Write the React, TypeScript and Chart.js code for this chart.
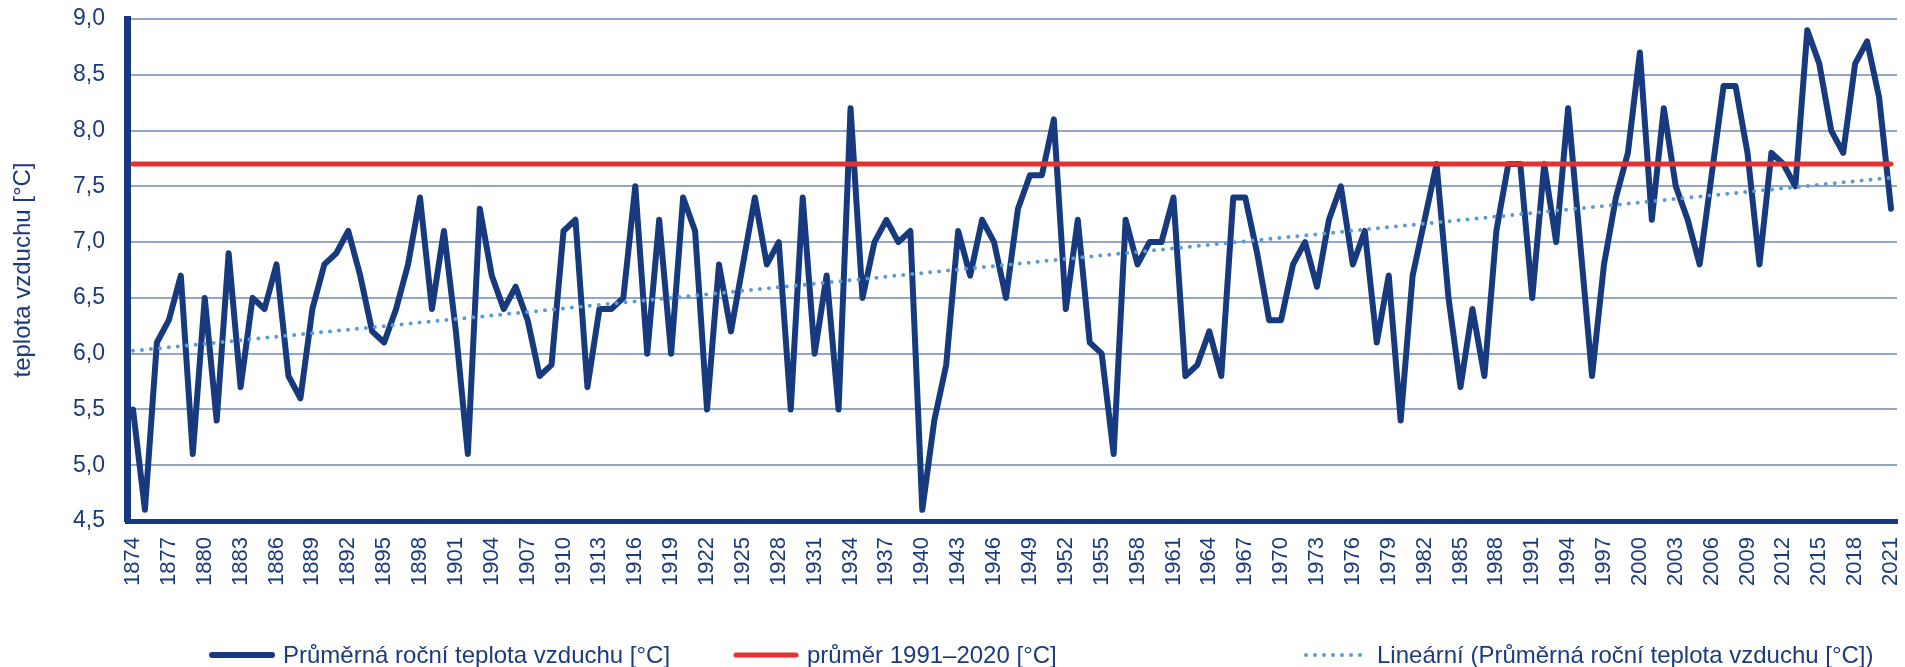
import React, { useEffect, useRef } from "react";
import { Chart, registerables } from "chart.js";

Chart.register(...registerables);

// ---- data ----
const firstYear = 1874;
const lastYear = 2021;
const years: string[] = Array.from({ length: lastYear - firstYear + 1 }, (_, i) => String(firstYear + i));

const temps1874to1879 = [5.5, 4.6, 6.1, 6.3, 6.7, 5.1];
const temps1880s = [6.5, 5.4, 6.9, 5.7, 6.5, 6.4, 6.8, 5.8, 5.6, 6.4];
const temps1890s = [6.8, 6.9, 7.1, 6.7, 6.2, 6.1, 6.4, 6.8, 7.4, 6.4];
const temps1900s = [7.1, 6.2, 5.1, 7.3, 6.7, 6.4, 6.6, 6.3, 5.8, 5.9];
const temps1910s = [7.1, 7.2, 5.7, 6.4, 6.4, 6.5, 7.5, 6.0, 7.2, 6.0];
const temps1920s = [7.4, 7.1, 5.5, 6.8, 6.2, 6.8, 7.4, 6.8, 7.0, 5.5];
const temps1930s = [7.4, 6.0, 6.7, 5.5, 8.2, 6.5, 7.0, 7.2, 7.0, 7.1];
const temps1940s = [4.6, 5.4, 5.9, 7.1, 6.7, 7.2, 7.0, 6.5, 7.3, 7.6];
const temps1950s = [7.6, 8.1, 6.4, 7.2, 6.1, 6.0, 5.1, 7.2, 6.8, 7.0];
const temps1960s = [7.0, 7.4, 5.8, 5.9, 6.2, 5.8, 7.4, 7.4, 6.9, 6.3];
const temps1970s = [6.3, 6.8, 7.0, 6.6, 7.2, 7.5, 6.8, 7.1, 6.1, 6.7];
const temps1980s = [5.4, 6.7, 7.2, 7.7, 6.5, 5.7, 6.4, 5.8, 7.1, 7.7];
const temps1990s = [7.7, 6.5, 7.7, 7.0, 8.2, 7.0, 5.8, 6.8, 7.4, 7.8];
const temps2000s = [8.7, 7.2, 8.2, 7.5, 7.2, 6.8, 7.6, 8.4, 8.4, 7.8];
const temps2010s = [6.8, 7.8, 7.7, 7.5, 8.9, 8.6, 8.0, 7.8, 8.6, 8.8];
const temps2020s = [8.3, 7.3];

const annualTemps: number[] = [
  ...temps1874to1879, ...temps1880s, ...temps1890s, ...temps1900s, ...temps1910s,
  ...temps1920s, ...temps1930s, ...temps1940s, ...temps1950s, ...temps1960s,
  ...temps1970s, ...temps1980s, ...temps1990s, ...temps2000s, ...temps2010s, ...temps2020s,
];

const normal19912020 = 7.7;

const yTickMin = 4.5;
const yTickMax = 9.0;
const yTickStep = 0.5;

const seriesLabels = [
  "Průměrná roční teplota vzduchu [°C]",
  "průměr 1991–2020 [°C]",
  "Lineární (Průměrná roční teplota vzduchu [°C])",
];
const yAxisTitle = "teplota vzduchu [°C]";

// ---- styles ----
const NAVY = "#173a7e";
const TEXT = "#1c3b7c";
const RED = "#e5312f";
const TREND = "#5b9bd5";
const GRID = "#95a5c5";
const FONT = "'Liberation Sans', Arial, sans-serif";

// least-squares linear trend of the annual series (Excel "Lineární" trendline)
function linearTrend(values: number[]): number[] {
  const n = values.length;
  let sx = 0, sy = 0, sxx = 0, sxy = 0;
  values.forEach((v, i) => {
    sx += i; sy += v; sxx += i * i; sxy += i * v;
  });
  const b = (n * sxy - sx * sy) / (n * sxx - sx * sx);
  const a = (sy - b * sx) / n;
  return values.map((_, i) => a + b * i);
}

export default function App() {
  const canvasRef = useRef<HTMLCanvasElement | null>(null);

  useEffect(() => {
    if (!canvasRef.current) return;
    const trend = linearTrend(annualTemps);
    const normalLine = years.map(() => normal19912020);

    const chart = new Chart(canvasRef.current, {
      type: "line",
      data: {
        labels: years,
        datasets: [
          {
            label: seriesLabels[0],
            data: annualTemps,
            borderColor: NAVY,
            backgroundColor: NAVY,
            borderWidth: 6,
            borderJoinStyle: "round",
            borderCapStyle: "round",
            pointRadius: 0,
            tension: 0,
            order: 3,
          },
          {
            label: seriesLabels[1],
            data: normalLine,
            borderColor: RED,
            backgroundColor: RED,
            borderWidth: 5,
            borderCapStyle: "round",
            pointRadius: 0,
            order: 2,
          },
          {
            label: seriesLabels[2],
            data: trend,
            borderColor: TREND,
            backgroundColor: TREND,
            borderWidth: 4,
            borderDash: [0, 9],
            borderCapStyle: "round",
            pointRadius: 0,
            order: 1,
          },
        ],
      },
      options: {
        responsive: false,
        animation: false,
        devicePixelRatio: 1,
        layout: { padding: { left: 0, right: 8, top: 19, bottom: 0 } },
        plugins: {
          legend: { display: false },
          tooltip: { enabled: false },
        },
        scales: {
          x: {
            type: "category",
            offset: true,
            grid: { display: false, drawTicks: false },
            border: { display: true, color: NAVY, width: 5 },
            ticks: {
              autoSkip: false,
              minRotation: 90,
              maxRotation: 90,
              padding: 16,
              color: TEXT,
              font: { family: FONT, size: 22 },
              callback: (_v: any, i: number) => (i % 3 === 0 ? years[i] : ""),
            },
            afterFit: (s: any) => {
              s.height = 146;
              s.paddingLeft = 0;
              s.paddingRight = 0;
            },
          },
          y: {
            min: yTickMin,
            max: yTickMax,
            ticks: {
              stepSize: yTickStep,
              padding: 22,
              color: TEXT,
              font: { family: FONT, size: 23 },
              callback: (v: any) => Number(v).toFixed(1).replace(".", ","),
            },
            grid: { color: GRID, lineWidth: 2, drawTicks: false },
            border: { display: true, color: NAVY, width: 7 },
            title: {
              display: true,
              text: yAxisTitle,
              color: TEXT,
              font: { family: FONT, size: 24 },
              padding: { top: 9, bottom: 0 },
            },
            afterFit: (s: any) => {
              s.width = 127;
              s.paddingTop = 0;
              s.paddingBottom = 0;
            },
          },
        },
      },
    });
    return () => chart.destroy();
  }, []);

  const legendItems = [
    { left: 209, kind: "solid", color: NAVY, width: 6 },
    { left: 733, kind: "solid", color: RED, width: 5 },
    { left: 1303, kind: "dot", color: TREND, width: 4 },
  ];

  return (
    <div style={{ position: "absolute", left: 0, top: 0, width: 1905, height: 667, background: "#fff", overflow: "hidden" }}>
      <canvas ref={canvasRef} width={1905} height={667} style={{ display: "block" }} />
      {legendItems.map((it, i) => (
        <div
          key={i}
          style={{
            position: "absolute",
            left: it.left,
            top: 655,
            transform: "translateY(-50%)",
            display: "flex",
            alignItems: "center",
            fontFamily: FONT,
            fontSize: 24,
            color: TEXT,
            whiteSpace: "nowrap",
          }}
        >
          <svg width={66} height={10} style={{ marginRight: 8 }}>
            {it.kind === "solid" ? (
              <line x1={3} y1={5} x2={63} y2={5} stroke={it.color} strokeWidth={it.width} strokeLinecap="round" />
            ) : (
              <line x1={3} y1={5} x2={63} y2={5} stroke={it.color} strokeWidth={it.width} strokeDasharray="0 9" strokeLinecap="round" />
            )}
          </svg>
          <span>{seriesLabels[i]}</span>
        </div>
      ))}
    </div>
  );
}
